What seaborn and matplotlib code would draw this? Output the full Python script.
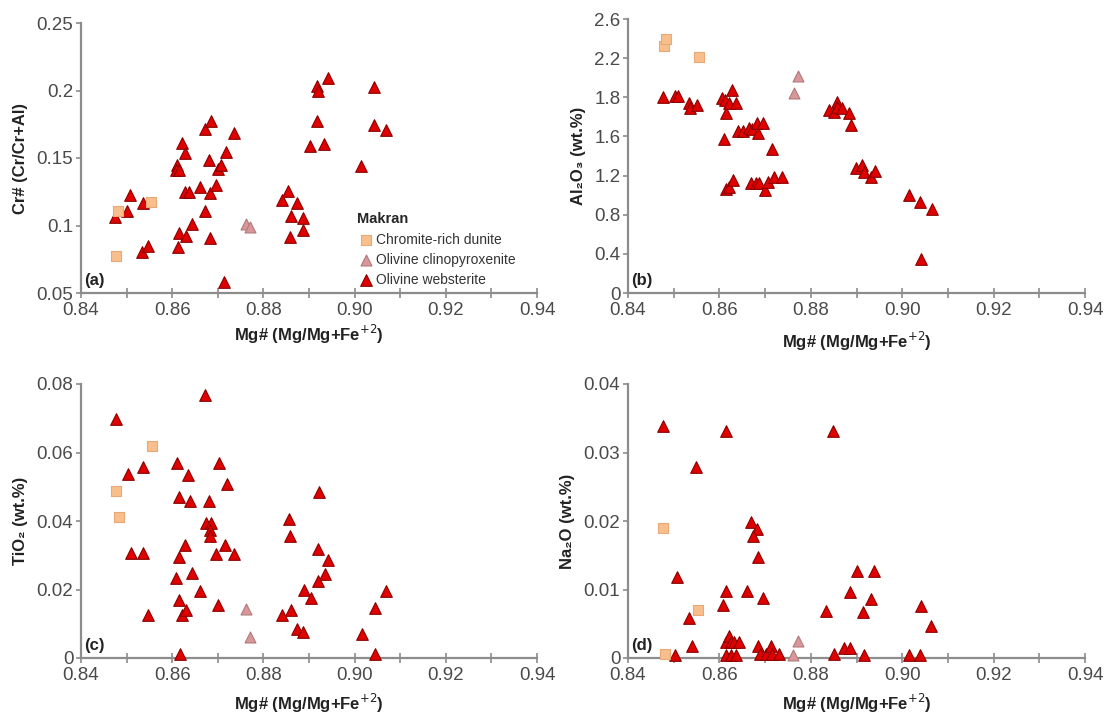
import numpy as np
import pandas as pd
import matplotlib
matplotlib.use("Agg")
import matplotlib.pyplot as plt
import seaborn as sns
from matplotlib.ticker import FixedLocator

sns.set_theme(style="white")
plt.rcParams['font.family'] = ['Liberation Sans', 'DejaVu Sans']

groups = ["Chromite-rich dunite", "Olivine clinopyroxenite", "Olivine websterite"]

# ---------------- Panel (a): Cr# ----------------
a_dun_x = [0.8481, 0.8476, 0.8553]
a_dun_y = [0.1109, 0.0772, 0.1173]
a_cpx_x = [0.8761, 0.8770]
a_cpx_y = [0.101, 0.099]
a_web_x = [0.8474, 0.8508, 0.8501, 0.8537, 0.8533, 0.8548, 0.8610, 0.8609, 0.8616, 0.8622,
           0.8628, 0.8613, 0.8615, 0.8631, 0.8628, 0.8636, 0.8644, 0.8661, 0.8671, 0.8671,
           0.8686, 0.8680, 0.8683, 0.8683, 0.8696, 0.8700, 0.8706, 0.8719, 0.8713, 0.8735,
           0.8855, 0.8840, 0.8873, 0.8860, 0.8887, 0.8887, 0.8858, 0.8917, 0.8920, 0.8942,
           0.9042, 0.8918, 0.8903, 0.8933, 0.9042, 0.9068, 0.9014]
a_web_y = [0.106, 0.1223, 0.1104, 0.1168, 0.0802, 0.0847, 0.1448, 0.1411, 0.141, 0.1609,
           0.1535, 0.0842, 0.0941, 0.0921, 0.125, 0.1245, 0.101, 0.1282, 0.1109, 0.1713,
           0.1777, 0.1485, 0.1238, 0.0911, 0.1297, 0.1416, 0.1446, 0.1547, 0.0582, 0.1688,
           0.1257, 0.1188, 0.1163, 0.1069, 0.1059, 0.097, 0.0916, 0.2035, 0.200, 0.2089,
           0.2025, 0.1772, 0.1589, 0.1604, 0.1743, 0.1708, 0.1441]

# ---------------- Panel (b): Al2O3 ----------------
b_dun_x = [0.8478, 0.8483, 0.8555]
b_dun_y = [2.34, 2.41, 2.236]
b_cpx_x = [0.8764, 0.8772]
b_cpx_y = [1.896, 2.061]
b_web_x = [0.8476, 0.8503, 0.8509, 0.8534, 0.8536, 0.8550, 0.8606, 0.8612, 0.8614, 0.8609,
           0.8628, 0.8622, 0.8637, 0.8641, 0.8651, 0.8665, 0.8672, 0.8682, 0.8684, 0.8695,
           0.8670, 0.8680, 0.8686, 0.8699, 0.8706, 0.8715, 0.8720, 0.8737, 0.8615, 0.8622,
           0.8630, 0.8840, 0.8851, 0.8857, 0.8858, 0.8869, 0.8884, 0.8887, 0.8898, 0.8913,
           0.8916, 0.8931, 0.8940, 0.9015, 0.9040, 0.9065, 0.9041]
b_web_y = [1.858, 1.865, 1.871, 1.807, 1.754, 1.788, 1.852, 1.833, 1.706, 1.459,
           1.928, 1.801, 1.807, 1.541, 1.541, 1.563, 1.554, 1.617, 1.516, 1.617,
           1.040, 1.040, 1.040, 0.977, 1.056, 1.364, 1.104, 1.104, 0.983, 1.002,
           1.072, 1.738, 1.722, 1.817, 1.769, 1.754, 1.706, 1.595, 1.183, 1.214,
           1.151, 1.104, 1.161, 0.929, 0.859, 0.793, 0.327]

# ---------------- Panel (c): TiO2 ----------------
c_dun_x = [0.8476, 0.8484, 0.8555]
c_dun_y = [0.0489, 0.0411, 0.0620]
c_cpx_x = [0.8762, 0.8771]
c_cpx_y = [0.01444, 0.00615]
c_web_x = [0.8476, 0.8503, 0.8509, 0.8536, 0.8535, 0.8548, 0.8610, 0.8609, 0.8615, 0.8615,
           0.8616, 0.8622, 0.8617, 0.8629, 0.8631, 0.8634, 0.8638, 0.8644, 0.8660, 0.8672,
           0.8674, 0.8680, 0.8684, 0.8683, 0.8683, 0.8695, 0.8700, 0.8703, 0.8715, 0.8720,
           0.8736, 0.8921, 0.8856, 0.8858, 0.8919, 0.8942, 0.8936, 0.8919, 0.8889, 0.8904,
           0.8841, 0.8860, 0.8873, 0.8887, 0.9068, 0.9044, 0.9016, 0.9044]
c_web_y = [0.0698, 0.0537, 0.0307, 0.0559, 0.0307, 0.0125, 0.0569, 0.0235, 0.0471, 0.0296,
           0.0169, 0.0125, 0.0013, 0.0330, 0.0140, 0.0535, 0.0457, 0.0247, 0.0196, 0.0769,
           0.0393, 0.0457, 0.0395, 0.0374, 0.0356, 0.0305, 0.0154, 0.0569, 0.0330, 0.0507,
           0.0305, 0.0486, 0.0406, 0.0357, 0.0317, 0.0286, 0.0245, 0.0225, 0.0198, 0.0174,
           0.0125, 0.0140, 0.0086, 0.0076, 0.0196, 0.0147, 0.0071, 0.0013]

# ---------------- Panel (d): Na2O ----------------
d_dun_x = [0.8477, 0.8554, 0.8482]
d_dun_y = [0.0190, 0.0070, 0.0006]
d_cpx_x = [0.8771, 0.8762]
d_cpx_y = [0.0025, 0.0005]
d_web_x = [0.8476, 0.8503, 0.8508, 0.8534, 0.8539, 0.8549, 0.8614, 0.8615, 0.8608, 0.8615,
           0.8622, 0.8626, 0.8631, 0.8643, 0.8615, 0.8626, 0.8637, 0.8660, 0.8670, 0.8682,
           0.8673, 0.8684, 0.8695, 0.8684, 0.8688, 0.8702, 0.8713, 0.8715, 0.8731, 0.8833,
           0.8848, 0.8851, 0.8902, 0.8938, 0.8885, 0.8931, 0.8914, 0.9041, 0.9064, 0.8872,
           0.8886, 0.8916, 0.9015, 0.9040]
d_web_y = [0.0338, 0.0005, 0.0118, 0.0058, 0.0017, 0.0279, 0.0331, 0.0098, 0.0077, 0.0024,
           0.0032, 0.0023, 0.0023, 0.0023, 0.0005, 0.0005, 0.0005, 0.0098, 0.0199, 0.0188,
           0.0178, 0.0148, 0.0088, 0.0017, 0.0006, 0.0006, 0.0017, 0.0006, 0.0006, 0.0069,
           0.0331, 0.0006, 0.0127, 0.0127, 0.0097, 0.0086, 0.0067, 0.0076, 0.0046, 0.0015,
           0.0015, 0.0004, 0.0004, 0.0004]

x_ticks = [0.84, 0.86, 0.88, 0.90, 0.92, 0.94]
x_tick_labels = ["0.84", "0.86", "0.88", "0.90", "0.92", "0.94"]

a_yticks = [0.05, 0.10, 0.15, 0.20, 0.25]
a_ylabels = ["0.05", "0.1", "0.15", "0.2", "0.25"]
b_yticks = list(np.linspace(0, 2.6, 8))
b_ylabels = ["0", "0.4", "0.8", "1.2", "1.6", "1.8", "2.2", "2.6"]
c_yticks = [0, 0.02, 0.04, 0.06, 0.08]
c_ylabels = ["0", "0.02", "0.04", "0.06", "0.08"]
d_yticks = [0, 0.01, 0.02, 0.03, 0.04]
d_ylabels = ["0", "0.01", "0.02", "0.03", "0.04"]


def make_df(dx, dy, cx, cy, wx, wy):
    return pd.DataFrame({
        "x": list(dx) + list(cx) + list(wx),
        "y": list(dy) + list(cy) + list(wy),
        "g": [groups[0]] * len(dx) + [groups[1]] * len(cx) + [groups[2]] * len(wx),
    })


styles = {
    groups[0]: dict(marker="s", color="#F8BF8C", edgecolor="#E8A878", s=48),
    groups[1]: dict(marker="^", color="#D9979A", edgecolor="#B07A7C", s=62),
    groups[2]: dict(marker="^", color="#E00000", edgecolor="#8A0000", s=70),
}

fig = plt.figure(figsize=(11.07, 7.19), dpi=100)
W, H = 1107, 719
def axes_px(l, r, t, b):
    return fig.add_axes([l / W, 1 - b / H, (r - l) / W, (b - t) / H])

ax_a = axes_px(81, 537, 23, 293)
ax_b = axes_px(628, 1085, 19, 293)
ax_c = axes_px(81, 537, 384, 658)
ax_d = axes_px(628, 1085, 384, 658)

panels = [
    (ax_a, make_df(a_dun_x, a_dun_y, a_cpx_x, a_cpx_y, a_web_x, a_web_y), (0.05, 0.25), a_yticks, a_ylabels, "Cr# (Cr/Cr+Al)", "(a)", 3),
    (ax_b, make_df(b_dun_x, b_dun_y, b_cpx_x, b_cpx_y, b_web_x, b_web_y), (0, 2.6), b_yticks, b_ylabels, "Al₂O₃ (wt.%)", "(b)", 8),
    (ax_c, make_df(c_dun_x, c_dun_y, c_cpx_x, c_cpx_y, c_web_x, c_web_y), (0, 0.08), c_yticks, c_ylabels, "TiO₂ (wt.%)", "(c)", 6),
    (ax_d, make_df(d_dun_x, d_dun_y, d_cpx_x, d_cpx_y, d_web_x, d_web_y), (0, 0.04), d_yticks, d_ylabels, "Na₂O (wt.%)", "(d)", 6),
]

spine_col = "#8c8c8c"
tick_col = "#4a4a4a"

for ax, df, ylim, yt, yl, ylabel, tag, xpad in panels:
    for g in [groups[2], groups[0], groups[1]]:
        sub = df[df["g"] == g]
        st = styles[g]
        sns.scatterplot(data=sub, x="x", y="y", ax=ax, marker=st["marker"], color=st["color"],
                        edgecolor=st["edgecolor"], linewidth=0.8, s=st["s"], label=g,
                        legend=False, zorder=3, clip_on=False)
    ax.set_xlim(0.84, 0.94)
    ax.set_ylim(*ylim)
    ax.set_xticks(x_ticks)
    ax.set_xticklabels(x_tick_labels)
    ax.xaxis.set_minor_locator(FixedLocator([0.85, 0.87, 0.89, 0.91, 0.93]))
    ax.set_yticks(yt)
    ax.set_yticklabels(yl)
    for s in ["top", "right"]:
        ax.spines[s].set_visible(False)
    for s in ["left", "bottom"]:
        ax.spines[s].set_color(spine_col)
        ax.spines[s].set_linewidth(1.6)
    ax.tick_params(axis="x", which="both", direction="inout", length=7, width=1.2,
                   color=spine_col, labelsize=13.5, labelcolor=tick_col, pad=3, bottom=True)
    ax.tick_params(axis="y", which="major", direction="out", length=3.5, width=1.2,
                   color=spine_col, labelsize=13.5, labelcolor=tick_col, pad=2, left=True)
    ax.set_xlabel("Mg# (Mg/Mg+Fe$^{+2}$)", fontsize=12, fontweight="bold", color="#222222", labelpad=xpad)
    ax.set_ylabel(ylabel, fontsize=12, fontweight="bold", color="#222222", labelpad=6)
    ax.text(0.006, 0.02, tag, transform=ax.transAxes, fontsize=12, fontweight="bold",
            color="#222222", ha="left", va="bottom")
    ax.set_facecolor("white")
    ax.grid(False)

handles, labels = ax_a.get_legend_handles_labels()
order = [labels.index(g) for g in groups]
leg = ax_a.legend([handles[i] for i in order], [labels[i] for i in order], title="Makran",
                  loc="upper left", bbox_to_anchor=(0.585, 0.335), frameon=False,
                  fontsize=10, title_fontproperties={"weight": "bold", "size": 10.5},
                  handletextpad=0.1, labelspacing=0.45, borderpad=0.2, handlelength=1.2)
leg._legend_box.align = "left"
for t in leg.get_texts():
    t.set_color("#333333")

fig.savefig("out.png", dpi=100)
